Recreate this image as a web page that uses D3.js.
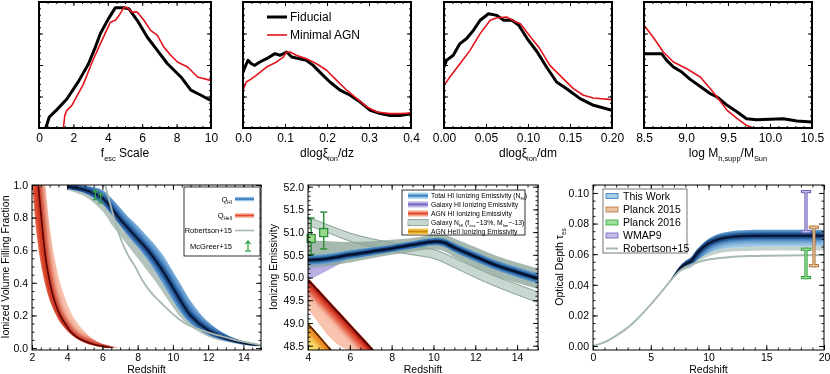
<!DOCTYPE html>
<html>
<head>
<meta charset="utf-8">
<script src="https://cdn.jsdelivr.net/npm/d3@7"></script>
<style>
  body { margin: 0; background: #fff; }
  svg { will-change: transform; }
  text, tspan { font-family: "Liberation Sans", Arial, Helvetica, sans-serif; fill: #000; }
</style>
</head>
<body>
<script>
// ---------- top row: normalised likelihood curves ----------
const fescFidX = [0.39, 0.6, 1.0, 1.62, 2.3, 2.88, 3.3, 3.57, 4.05, 4.44, 4.93, 5.22, 5.71, 6.3, 6.88, 7.47, 8.25, 8.83, 9.42, 9.96]
const fescFidY = [0, 0.087, 0.14, 0.23, 0.37, 0.51, 0.65, 0.75, 0.87, 0.955, 0.955, 0.947, 0.855, 0.72, 0.616, 0.51, 0.405, 0.30, 0.26, 0.22]
const fescAgnX = [1.42, 1.5, 1.62, 1.91, 2.59, 3.08, 3.57, 4.15, 4.44, 4.64, 4.93, 5.13, 5.42, 5.71, 6.1, 6.49, 6.88, 7.27, 7.66, 8.05, 8.64, 9.22, 9.96]
const fescAgnY = [0, 0.1, 0.14, 0.18, 0.35, 0.52, 0.67, 0.84, 0.855, 0.89, 0.955, 0.955, 0.92, 0.92, 0.855, 0.775, 0.735, 0.64, 0.577, 0.524, 0.484, 0.405, 0.378]

const dzFidX = [0, 0.0064, 0.012, 0.02, 0.028, 0.04, 0.056, 0.076, 0.088, 0.104, 0.116, 0.135, 0.151, 0.167, 0.187, 0.207, 0.231, 0.255, 0.279, 0.303, 0.327, 0.35, 0.374, 0.4]
const dzFidY = [0.444, 0.497, 0.537, 0.51, 0.497, 0.524, 0.55, 0.59, 0.577, 0.603, 0.563, 0.55, 0.537, 0.497, 0.43, 0.365, 0.30, 0.26, 0.206, 0.14, 0.114, 0.10, 0.10, 0.114]
const dzAgnX = [0, 0.008, 0.02, 0.036, 0.056, 0.08, 0.096, 0.104, 0.112, 0.127, 0.151, 0.175, 0.199, 0.223, 0.247, 0.271, 0.295, 0.319, 0.35, 0.374, 0.4]
const dzAgnY = [0.30, 0.365, 0.39, 0.43, 0.484, 0.524, 0.563, 0.603, 0.603, 0.577, 0.55, 0.51, 0.458, 0.378, 0.30, 0.233, 0.167, 0.127, 0.114, 0.114, 0.119]

const dmFidX = [0, 0.003, 0.011, 0.019, 0.027, 0.035, 0.043, 0.053, 0.063, 0.071, 0.081, 0.089, 0.099, 0.111, 0.122, 0.134, 0.146, 0.162, 0.178, 0.2]
const dmFidY = [0.484, 0.537, 0.577, 0.67, 0.71, 0.775, 0.855, 0.907, 0.894, 0.855, 0.855, 0.815, 0.71, 0.603, 0.484, 0.365, 0.312, 0.233, 0.18, 0.14]
const dmAgnX = [0, 0.007, 0.019, 0.031, 0.043, 0.055, 0.063, 0.075, 0.083, 0.091, 0.103, 0.114, 0.126, 0.138, 0.154, 0.166, 0.178, 0.2]
const dmAgnY = [0.339, 0.405, 0.51, 0.616, 0.749, 0.855, 0.875, 0.88, 0.85, 0.828, 0.722, 0.63, 0.497, 0.418, 0.312, 0.26, 0.238, 0.225]

const mhFidX = [8.5, 8.71, 8.77, 8.85, 8.95, 9.05, 9.17, 9.29, 9.37, 9.49, 9.61, 9.72, 9.84, 10.0, 10.16, 10.32, 10.5]
const mhFidY = [0.59, 0.59, 0.537, 0.484, 0.444, 0.386, 0.33, 0.272, 0.246, 0.18, 0.127, 0.074, 0.066, 0.069, 0.074, 0.056, 0.048]
const mhAgnX = [8.5, 8.61, 8.73, 8.85, 9.01, 9.17, 9.29, 9.37, 9.49, 9.61, 9.72, 9.8, 10.5]
const mhAgnY = [0.815, 0.72, 0.603, 0.524, 0.47, 0.405, 0.312, 0.246, 0.14, 0.074, 0.021, 0, 0]

// ---------- bottom left: ionized fractions ----------
const qhiZ    = [4, 5, 6, 6.5, 7, 7.5, 8, 8.5, 9, 9.5, 10, 10.5, 11, 12, 13, 14, 15]
const qhiHi   = [1.0, 0.995, 0.97, 0.92, 0.86, 0.80, 0.75, 0.69, 0.63, 0.56, 0.47, 0.38, 0.29, 0.16, 0.085, 0.042, 0.018]
const qhiCore = [0.99, 0.97, 0.92, 0.86, 0.79, 0.73, 0.67, 0.61, 0.54, 0.46, 0.37, 0.28, 0.20, 0.11, 0.06, 0.03, 0.013]
const qhiLo   = [0.975, 0.95, 0.88, 0.82, 0.75, 0.68, 0.62, 0.55, 0.47, 0.38, 0.29, 0.21, 0.15, 0.08, 0.045, 0.022, 0.01]
const qhiGrey = [0.97, 0.93, 0.84, 0.76, 0.69, 0.62, 0.55, 0.48, 0.41, 0.33, 0.25, 0.18, 0.13, 0.07, 0.038, 0.018, 0.008]

const heiiQ     = [1.0, 0.9, 0.8, 0.7, 0.6, 0.5, 0.4, 0.3, 0.2, 0.15, 0.1, 0.06, 0.03, 0.01, 0.0]
const heiiLeft  = [2.0, 2.09, 2.16, 2.26, 2.38, 2.53, 2.72, 2.98, 3.38, 3.65, 4.05, 4.5, 5.05, 5.7, 6.2]
const heiiCore  = [2.36, 2.44, 2.53, 2.62, 2.72, 2.85, 3.02, 3.25, 3.6, 3.88, 4.2, 4.65, 5.3, 6.06, 6.6]
const heiiRight = [2.76, 2.85, 2.94, 3.06, 3.2, 3.38, 3.6, 3.9, 4.3, 4.6, 5.0, 5.4, 5.9, 6.6, 7.0]

const robQZ = [6.15, 6.4, 6.7, 7.1, 7.5, 7.85, 8.3, 8.8, 9.3, 9.75, 10.2, 10.7, 11.5, 12.2, 13.0, 13.5, 14.2, 15]
const robQ  = [1.0, 0.9, 0.785, 0.652, 0.56, 0.5, 0.41, 0.335, 0.28, 0.233, 0.19, 0.15, 0.115, 0.09, 0.065, 0.05, 0.035, 0.018]

const mcgZ = [5.6, 5.9]
const mcgQ = [0.91, 0.89]

// ---------- bottom middle: emissivities ----------
const totZ     = [4, 5, 6, 7, 8, 9, 10, 10.5, 11, 12, 13, 14, 15]
const totCore  = [50.38, 50.42, 50.5, 50.57, 50.64, 50.72, 50.79, 50.77, 50.66, 50.46, 50.27, 50.12, 49.98]
const totHi    = [50.5, 50.53, 50.6, 50.66, 50.72, 50.8, 50.87, 50.86, 50.76, 50.57, 50.38, 50.23, 50.1]
const totLo    = [50.26, 50.31, 50.4, 50.48, 50.56, 50.64, 50.71, 50.68, 50.56, 50.35, 50.16, 50.0, 49.86]
const totOutHi = [50.82, 50.8, 50.78, 50.8, 50.83, 50.87, 50.95, 50.95, 50.86, 50.67, 50.48, 50.33, 50.2]
const totOutLo = [50.22, 50.26, 50.33, 50.42, 50.5, 50.57, 50.62, 50.58, 50.45, 50.22, 50.02, 49.88, 49.75]

const galZ  = [4, 4.5, 5, 5.5, 6]
const galHi = [50.35, 50.38, 50.42, 50.46, 50.5]
const galLo = [49.95, 50.05, 50.17, 50.3, 50.45]

const nhiZ  = [4, 5, 6, 7, 8, 9, 10, 11, 12, 13, 14, 15]
const nhiHi = [51.33, 51.15, 50.98, 50.86, 50.77, 50.69, 50.62, 50.43, 50.22, 50.02, 49.85, 49.68]
const nhiLo = [51.15, 50.98, 50.8, 50.68, 50.58, 50.5, 50.42, 50.22, 50.0, 49.8, 49.62, 49.45]

const agnZ    = [4, 4.5, 5, 5.5, 6, 6.5, 7, 7.3]
const agnHi   = [49.99, 49.74, 49.49, 49.24, 48.99, 48.74, 48.49, 48.34]
const agnCore = [49.95, 49.7, 49.45, 49.2, 48.95, 48.7, 48.45, 48.3]
const agnLo   = [49.3, 49.0, 48.7, 48.5, 48.4, 48.35, 48.3, 48.3]

const heZ    = [4, 4.5, 5, 5.2]
const heHi   = [49.01, 48.75, 48.48, 48.38]
const heCore = [48.98, 48.72, 48.45, 48.35]
const heLo   = [48.3, 48.3, 48.3, 48.3]

const obsZ  = [4.15, 4.75]
const obsE  = [50.86, 50.99]
const obsLo = [50.51, 50.63]
const obsHi = [51.31, 51.44]

// ---------- bottom right: optical depth ----------
const robTZ = [0, 1, 2, 3, 4, 5, 6, 6.5, 7, 7.5, 8, 9, 10, 11, 12, 13, 14, 15, 17, 20]
const robTau = [0, 0.0025, 0.0068, 0.012, 0.019, 0.0272, 0.036, 0.0408, 0.0452, 0.049, 0.0515, 0.0545, 0.0565, 0.0575, 0.0582, 0.0586, 0.0588, 0.059, 0.0592, 0.0594]

const twZ    = [6.5, 7, 7.5, 8, 8.5, 9, 10, 11, 12, 13, 14, 15, 17, 20]
const twHi   = [0.0410, 0.0466, 0.0520, 0.0555, 0.0580, 0.0630, 0.0700, 0.0735, 0.0750, 0.0756, 0.0759, 0.0760, 0.0760, 0.0760]
const twCore = [0.0408, 0.0458, 0.0505, 0.0535, 0.0555, 0.0605, 0.0670, 0.0700, 0.0713, 0.0718, 0.0720, 0.0721, 0.0721, 0.0721]
const twLo   = [0.0407, 0.0452, 0.0490, 0.0510, 0.0525, 0.0560, 0.0605, 0.0630, 0.0640, 0.0645, 0.0648, 0.0650, 0.0650, 0.0650]
const twGrey = [0.0406, 0.0448, 0.0483, 0.0500, 0.0512, 0.0545, 0.0585, 0.0608, 0.0617, 0.0621, 0.0623, 0.0624, 0.0624, 0.0624]

const cmbNames = ["WMAP9", "Planck 2015", "Planck 2016"]
const cmbZ  = [18.44, 19.13, 18.44]
const cmbLo = [0.0747, 0.0525, 0.0447]
const cmbHi = [0.1009, 0.0776, 0.0632]

// ---------- drawing ----------
const svg = d3.select("body").append("svg").attr("width", 830).attr("height", 374)
const defs = svg.append("defs")

function blur(id, sd) {
  defs.append("filter").attr("id", id).attr("filterUnits", "userSpaceOnUse")
    .attr("x", 0).attr("y", 0).attr("width", 830).attr("height", 374)
    .append("feGaussianBlur").attr("stdDeviation", sd)
}
blur("b3", 2.6)
blur("b15", 1.3)
blur("b07", 0.6)

function frame(id, x0, x1, y0, y1, xd, yd) {
  const x = d3.scaleLinear().domain(xd).range([x0, x1])
  const y = d3.scaleLinear().domain(yd).range([y1, y0])
  defs.append("clipPath").attr("id", "clip-" + id)
    .append("rect").attr("x", x0).attr("y", y0).attr("width", x1 - x0).attr("height", y1 - y0)
  const g = svg.append("g")
  const plot = g.append("g").attr("clip-path", `url(#clip-${id})`)
  return {id, x, y, g, plot, x0, x1, y0, y1}
}

let clipN = 0
function clipTo(d) {
  const id = "band" + (clipN++)
  defs.append("clipPath").attr("id", id).append("path").attr("d", d)
  return `url(#${id})`
}

// text with subscripts: parts are strings or {sub: "..."}
function rich(t, parts, fs) {
  let down = false
  parts.forEach(p => {
    const s = t.append("tspan").attr("fill", "#000")
    if (typeof p === "string") {
      s.text(p)
      if (down) { s.attr("dy", -0.3 * fs); down = false }
    } else {
      s.text(p.sub).attr("font-size", fs * 0.62).attr("dy", 0.3 * fs)
      down = true
    }
  })
  return t
}

function axes(p, o) {
  const {x, y, g, x0, x1, y0, y1} = p
  const tidy = sel => {
    sel.select(".domain").remove()
    sel.selectAll(".tick line").attr("stroke", "#000").attr("stroke-width", o.tw)
    sel.selectAll("text").attr("font-size", o.fs).attr("fill", "#000").attr("font-family", null)
  }
  const steps = (d, s) => d3.range(Math.ceil(d[0] / s - 1e-6) * s, d[1] + s * 1e-3, s)
  const xm = steps(x.domain(), o.xm), ym = steps(y.domain(), o.ym)
  g.append("g").attr("transform", `translate(0,${y1})`).call(d3.axisBottom(x).tickValues(xm).tickSize(-o.ml).tickFormat("")).call(tidy)
  g.append("g").attr("transform", `translate(0,${y0})`).call(d3.axisTop(x).tickValues(xm).tickSize(-o.ml).tickFormat("")).call(tidy)
  g.append("g").attr("transform", `translate(${x0},0)`).call(d3.axisLeft(y).tickValues(ym).tickSize(-o.ml).tickFormat("")).call(tidy)
  g.append("g").attr("transform", `translate(${x1},0)`).call(d3.axisRight(y).tickValues(ym).tickSize(-o.ml).tickFormat("")).call(tidy)
  g.append("g").attr("transform", `translate(0,${y1})`).call(d3.axisBottom(x).tickValues(o.xt).tickSize(-o.tl).tickPadding(o.pad).tickFormat(o.xf)).call(tidy)
  g.append("g").attr("transform", `translate(0,${y0})`).call(d3.axisTop(x).tickValues(o.xt).tickSize(-o.tl).tickFormat("")).call(tidy)
  g.append("g").attr("transform", `translate(${x0},0)`).call(d3.axisLeft(y).tickValues(o.yt).tickSize(-o.tl).tickPadding(o.pad).tickFormat(o.yf || "")).call(tidy)
  g.append("g").attr("transform", `translate(${x1},0)`).call(d3.axisRight(y).tickValues(o.yt).tickSize(-o.tl).tickFormat("")).call(tidy)
  g.append("rect").attr("x", x0).attr("y", y0).attr("width", x1 - x0).attr("height", y1 - y0)
    .attr("fill", "none").attr("stroke", "#000").attr("stroke-width", o.bw)
}

// ---- top row
const tops = [
  {id: "t1", x0: 39, x1: 211, xd: [0, 10], xt: [0, 2, 4, 6, 8, 10], xm: 0.5, xf: d3.format("d"),
   fid: [fescFidX, fescFidY], agn: [fescAgnX, fescAgnY], title: ["f", {sub: "esc"}, " Scale"]},
  {id: "t2", x0: 243, x1: 411, xd: [0, 0.4], xt: [0, 0.1, 0.2, 0.3, 0.4], xm: 0.02, xf: d3.format(".1f"),
   fid: [dzFidX, dzFidY], agn: [dzAgnX, dzAgnY], title: ["dlog\u03be", {sub: "ion"}, "/dz"]},
  {id: "t3", x0: 444, x1: 612, xd: [0, 0.2], xt: [0, 0.05, 0.1, 0.15, 0.2], xm: 0.01, xf: d3.format(".2f"),
   fid: [dmFidX, dmFidY], agn: [dmAgnX, dmAgnY], title: ["dlog\u03be", {sub: "ion"}, "/dm"]},
  {id: "t4", x0: 644, x1: 812, xd: [8.5, 10.5], xt: [8.5, 9, 9.5, 10, 10.5], xm: 0.1, xf: d3.format(".1f"),
   fid: [mhFidX, mhFidY], agn: [mhAgnX, mhAgnY], title: ["log M", {sub: "h,supp"}, "/M", {sub: "Sun"}]}
]

tops.forEach(t => {
  const p = frame(t.id, t.x0, t.x1, 2, 128, t.xd, [0, 1])
  const line = d3.line().x(d => p.x(d[0])).y(d => p.y(d[1]))
  p.plot.append("path").attr("d", line(d3.zip(...t.fid))).attr("fill", "none")
    .attr("stroke", "#000").attr("stroke-width", 3).attr("stroke-linejoin", "round")
  p.plot.append("path").attr("d", line(d3.zip(...t.agn))).attr("fill", "none")
    .attr("stroke", "#e3141b").attr("stroke-width", 1.6).attr("stroke-linejoin", "round")
  axes(p, {xt: t.xt, xm: t.xm, xf: t.xf, yt: [0.25, 0.5, 0.75], ym: 0.05, tl: 4, ml: 2, pad: 5, fs: 12, tw: 1, bw: 2})
  rich(p.g.append("text").attr("x", (t.x0 + t.x1) / 2).attr("y", 157).attr("text-anchor", "middle").attr("font-size", 12), t.title, 12)
})

// legend of top row
const tl = svg.append("g")
;[["Fiducial", "#000", 3, 17], ["Minimal AGN", "#e3141b", 1.6, 35]].forEach(([lab, col, w, yy]) => {
  tl.append("line").attr("x1", 267).attr("x2", 287).attr("y1", yy).attr("y2", yy).attr("stroke", col).attr("stroke-width", w)
  tl.append("text").attr("x", 290).attr("y", yy + 4.3).attr("font-size", 12).text(lab)
})

// ---- bottom left: Q
{
  const p = frame("A", 32, 261, 185, 350, [2, 15], [-0.012, 1.0])
  const {x, y, plot} = p
  const rows = qhiZ.map((z, i) => ({z, hi: qhiHi[i], core: qhiCore[i], lo: qhiLo[i], grey: qhiGrey[i]}))
  const band = (a, b) => d3.area().curve(d3.curveCatmullRom).x(d => x(d.z)).y0(d => y(d[b])).y1(d => y(d[a]))
  const coreLine = d3.line().curve(d3.curveCatmullRom).x(d => x(d.z)).y(d => y(d.core))

  // Q_HeII band (spread along redshift)
  const he = heiiQ.map((q, i) => ({q, l: heiiLeft[i], c: heiiCore[i], r: heiiRight[i]}))
  const hBand = (a, b) => d3.area().curve(d3.curveCatmullRom).y(d => y(d.q)).x0(d => x(d[a])).x1(d => x(d[b]))
  plot.append("path").attr("d", hBand("l", "r")(he)).attr("fill", "#f8c3ae")
  const hg = plot.append("g").attr("clip-path", clipTo(hBand("l", "r")(he)))
  const hLine = d3.line().curve(d3.curveCatmullRom).x(d => x(d.c)).y(d => y(d.q))
  hg.append("path").attr("d", hBand("l", "c")(he)).attr("fill", "#ec5f40").attr("filter", "url(#b15)")
  hg.append("path").attr("d", hLine(he)).attr("fill", "none").attr("stroke", "#c42a18").attr("stroke-width", 7).attr("filter", "url(#b3)")
  hg.append("path").attr("d", hLine(he)).attr("fill", "none").attr("stroke", "#5a0000").attr("stroke-width", 1.6).attr("filter", "url(#b07)")

  // Q_HI band
  plot.append("path").attr("d", band("lo", "grey")(rows)).attr("fill", "#b4c4bd")
  plot.append("path").attr("d", band("hi", "lo")(rows)).attr("fill", "#a2cae8")
  const bg = plot.append("g").attr("clip-path", clipTo(band("hi", "lo")(rows)))
  bg.append("path").attr("d", coreLine(rows)).attr("fill", "none").attr("stroke", "#3f7fbf").attr("stroke-width", 14).attr("filter", "url(#b3)")
  bg.append("path").attr("d", coreLine(rows)).attr("fill", "none").attr("stroke", "#123b72").attr("stroke-width", 5).attr("filter", "url(#b15)")
  bg.append("path").attr("d", coreLine(rows)).attr("fill", "none").attr("stroke", "#031330").attr("stroke-width", 1.6)

  // Robertson+15
  plot.append("path").attr("d", d3.line().curve(d3.curveCatmullRom).x(d => x(d[0])).y(d => y(d[1]))(d3.zip(robQZ, robQ)))
    .attr("fill", "none").attr("stroke", "#a7b8b1").attr("stroke-width", 1.8)

  // McGreer+15 lower limits
  const limit = (g, cx, cy) => {
    g.append("line").attr("x1", cx - 3).attr("x2", cx + 3).attr("y1", cy).attr("y2", cy)
    g.append("line").attr("x1", cx).attr("x2", cx).attr("y1", cy).attr("y2", cy - 10)
    g.append("path").attr("d", `M${cx - 2.5},${cy - 7}L${cx},${cy - 10}L${cx + 2.5},${cy - 7}`).attr("fill", "none")
  }
  const mg = p.g.append("g").attr("stroke", "#35a045").attr("stroke-width", 1.3)
  mcgZ.forEach((z, i) => limit(mg, x(z), y(mcgQ[i])))

  axes(p, {xt: [2, 4, 6, 8, 10, 12, 14], xm: 0.5, xf: d3.format("d"), yt: [0, 0.2, 0.4, 0.6, 0.8, 1.0], ym: 0.05,
           yf: d3.format(".1f"), tl: 5, ml: 2.5, pad: 4, fs: 10.5, tw: 0.9, bw: 1})
  p.g.append("text").attr("x", (p.x0 + p.x1) / 2).attr("y", 373).attr("text-anchor", "middle").attr("font-size", 10.5).text("Redshift")
  p.g.append("text").attr("transform", "translate(9,267) rotate(-90)").attr("text-anchor", "middle").attr("font-size", 10.5)
    .text("Ionized Volume Filling Fraction")

  // legend
  const lg = p.g.append("g")
  lg.append("rect").attr("x", 184).attr("y", 187).attr("width", 76).attr("height", 69).attr("fill", "#fff").attr("stroke", "#000").attr("stroke-width", 0.8)
  const sw = (yy, light, dark) => {
    lg.append("line").attr("x1", 235).attr("x2", 254).attr("y1", yy).attr("y2", yy).attr("stroke", light).attr("stroke-width", 4.5)
    lg.append("line").attr("x1", 235).attr("x2", 254).attr("y1", yy).attr("y2", yy).attr("stroke", dark).attr("stroke-width", 1.5)
  }
  rich(lg.append("text").attr("x", 232).attr("y", 201.5).attr("text-anchor", "end").attr("font-size", 7.5), ["Q", {sub: "HI"}], 7.5)
  sw(199, "#9cc6e8", "#2e6fb0")
  rich(lg.append("text").attr("x", 232).attr("y", 218).attr("text-anchor", "end").attr("font-size", 7.5), ["Q", {sub: "HeII"}], 7.5)
  sw(215.5, "#f6a58c", "#e2452c")
  lg.append("text").attr("x", 232).attr("y", 233).attr("text-anchor", "end").attr("font-size", 7.5).text("Robertson+15")
  lg.append("line").attr("x1", 235).attr("x2", 254).attr("y1", 230.5).attr("y2", 230.5).attr("stroke", "#a7b8b1").attr("stroke-width", 1.6)
  lg.append("text").attr("x", 232).attr("y", 249).attr("text-anchor", "end").attr("font-size", 7.5).text("McGreer+15")
  limit(lg.append("g").attr("stroke", "#35a045").attr("stroke-width", 1.3), 248, 251)
}

// ---- bottom middle: emissivity
{
  const p = frame("B", 308, 538, 185, 350, [4, 15], [48.405, 52.037])
  const {x, y, plot} = p
  const cr = d3.curveCatmullRom
  const area = (z, a, b) => d3.area().curve(cr).x((d, i) => x(z[i])).y0((d, i) => y(b[i])).y1((d, i) => y(a[i]))(z)
  const line = (z, v) => d3.line().curve(cr).x((d, i) => x(z[i])).y((d, i) => y(v[i]))(z)

  // galaxy N_HI model band
  plot.append("path").attr("d", area(nhiZ, nhiHi, nhiLo)).attr("fill", "#c8d7cf")
  ;[nhiHi, nhiLo].forEach(v => plot.append("path").attr("d", line(nhiZ, v)).attr("fill", "none").attr("stroke", "#7d978c").attr("stroke-width", 0.9))

  // AGN HeII
  plot.append("path").attr("d", area(heZ, heHi, heLo)).attr("fill", "#f9dc6c")
  const hg = plot.append("g").attr("clip-path", clipTo(area(heZ, heHi, heLo)))
  hg.append("path").attr("d", line(heZ, heCore)).attr("fill", "none").attr("stroke", "#e8861a").attr("stroke-width", 12).attr("filter", "url(#b3)")
  hg.append("path").attr("d", line(heZ, heCore)).attr("fill", "none").attr("stroke", "#5a2600").attr("stroke-width", 1.8).attr("filter", "url(#b07)")

  // AGN HI
  plot.append("path").attr("d", area(agnZ, agnHi, agnLo)).attr("fill", "#f8c4b0")
  const ag = plot.append("g").attr("clip-path", clipTo(area(agnZ, agnHi, agnLo)))
  ag.append("path").attr("d", line(agnZ, agnCore)).attr("fill", "none").attr("stroke", "#e0462e").attr("stroke-width", 16).attr("filter", "url(#b3)")
  ag.append("path").attr("d", line(agnZ, agnCore)).attr("fill", "none").attr("stroke", "#b01a10").attr("stroke-width", 5).attr("filter", "url(#b15)")
  ag.append("path").attr("d", line(agnZ, agnCore)).attr("fill", "none").attr("stroke", "#4a0000").attr("stroke-width", 1.6)

  // galaxy HI
  plot.append("path").attr("d", area(galZ, galHi, galLo)).attr("fill", "#b9b0e2")
  const gg = plot.append("g").attr("clip-path", clipTo(area(galZ, galHi, galLo)))
  gg.append("path").attr("d", line(galZ, galHi)).attr("fill", "none").attr("stroke", "#6e60c0").attr("stroke-width", 8).attr("filter", "url(#b3)")

  // total HI
  plot.append("path").attr("d", area(totZ, totOutHi, totOutLo)).attr("fill", "#8ea89b").attr("fill-opacity", 0.8)
  plot.append("path").attr("d", area(totZ, totHi, totLo)).attr("fill", "#8dbde2")
  const tg = plot.append("g").attr("clip-path", clipTo(area(totZ, totHi, totLo)))
  tg.append("path").attr("d", line(totZ, totCore)).attr("fill", "none").attr("stroke", "#2c6aa8").attr("stroke-width", 8).attr("filter", "url(#b15)")
  tg.append("path").attr("d", line(totZ, totCore)).attr("fill", "none").attr("stroke", "#0a2754").attr("stroke-width", 3.5).attr("filter", "url(#b07)")
  tg.append("path").attr("d", line(totZ, totCore)).attr("fill", "none").attr("stroke", "#020c22").attr("stroke-width", 1.2)

  // observational points
  const og = p.g.append("g")
  obsZ.forEach((z, i) => {
    const cx = x(z)
    og.append("line").attr("x1", cx).attr("x2", cx).attr("y1", y(obsLo[i])).attr("y2", y(obsHi[i])).attr("stroke", "#2f8f3e").attr("stroke-width", 1.5)
    ;[obsLo[i], obsHi[i]].forEach(v => og.append("line").attr("x1", cx - 3.5).attr("x2", cx + 3.5).attr("y1", y(v)).attr("y2", y(v)).attr("stroke", "#2f8f3e").attr("stroke-width", 1.5))
    og.append("rect").attr("x", cx - 4).attr("y", y(obsE[i]) - 4).attr("width", 8).attr("height", 8)
      .attr("fill", "#9bd98a").attr("stroke", "#2f8f3e").attr("stroke-width", 1.3)
  })

  axes(p, {xt: [4, 6, 8, 10, 12, 14], xm: 0.5, xf: d3.format("d"), yt: [48.5, 49, 49.5, 50, 50.5, 51, 51.5, 52], ym: 0.1,
           yf: d3.format(".1f"), tl: 5, ml: 2.5, pad: 4, fs: 10.5, tw: 0.9, bw: 1})
  p.g.append("text").attr("x", (p.x0 + p.x1) / 2).attr("y", 373).attr("text-anchor", "middle").attr("font-size", 10.5).text("Redshift")
  p.g.append("text").attr("transform", "translate(277,267) rotate(-90)").attr("text-anchor", "middle").attr("font-size", 10.5)
    .text("Ionizing Emissivity")

  // legend
  const lg = p.g.append("g")
  lg.append("rect").attr("x", 402).attr("y", 190).attr("width", 123).attr("height", 45).attr("fill", "#fff").attr("stroke", "#000").attr("stroke-width", 0.8)
  const ent = [
    [["Total HI Ionizing Emissivity (N", {sub: "HI"}, ")"], "#9ccae9", "#3a7dbd", null],
    [["Galaxy HI Ionizing Emissivity"], "#bdb4e6", "#7466c2", null],
    [["AGN HI Ionizing Emissivity"], "#f6a58c", "#e2452c", null],
    [["Galaxy N", {sub: "HI"}, " (f", {sub: "esc"}, "~13%, M", {sub: "lim"}, "~-13)"], "#c8d7cf", "#c8d7cf", "#6f8a80"],
    [["AGN HeII Ionizing Emissivity"], "#f2c54a", "#c98a10", null]
  ]
  const ys = [195.7, 204.4, 213.5, 222.7, 231.5]
  ent.forEach(([parts, light, dark, edge], i) => {
    const yy = ys[i]
    lg.append("rect").attr("x", 408).attr("y", yy - 3).attr("width", 20).attr("height", 6).attr("fill", light)
      .attr("stroke", edge || "none").attr("stroke-width", 0.7)
    lg.append("line").attr("x1", 408).attr("x2", 428).attr("y1", yy).attr("y2", yy).attr("stroke", dark).attr("stroke-width", 2)
    rich(lg.append("text").attr("x", 431).attr("y", yy + 2.4).attr("font-size", 6.8), parts, 6.8)
  })
}

// ---- bottom right: optical depth
{
  const p = frame("C", 593, 824, 185, 350, [0, 20], [-0.0026, 0.1052])
  const {x, y, plot} = p
  const cr = d3.curveCatmullRom
  const area = (z, a, b) => d3.area().curve(cr).x((d, i) => x(z[i])).y0((d, i) => y(b[i])).y1((d, i) => y(a[i]))(z)
  const line = (z, v) => d3.line().curve(cr).x((d, i) => x(z[i])).y((d, i) => y(v[i]))(z)

  plot.append("path").attr("d", area(twZ, twLo, twGrey)).attr("fill", "#c3d2cb")
  plot.append("path").attr("d", area(twZ, twHi, twLo)).attr("fill", "#a5cce8")
  const tg = plot.append("g").attr("clip-path", clipTo(area(twZ, twHi, twLo)))
  tg.append("path").attr("d", line(twZ, twCore)).attr("fill", "none").attr("stroke", "#3677b8").attr("stroke-width", 12).attr("filter", "url(#b3)")
  tg.append("path").attr("d", line(twZ, twCore)).attr("fill", "none").attr("stroke", "#0c2c5c").attr("stroke-width", 4.5).attr("filter", "url(#b15)")
  tg.append("path").attr("d", line(twZ, twCore)).attr("fill", "none").attr("stroke", "#020e26").attr("stroke-width", 1.4)

  plot.append("path").attr("d", line(robTZ, robTau)).attr("fill", "none").attr("stroke", "#a7b9b2").attr("stroke-width", 2)

  const cmbCol = {"WMAP9": ["#6a5fb5", "#c3bdea"], "Planck 2015": ["#b0743c", "#eac3a0"], "Planck 2016": ["#2f9e3c", "#9fe09a"]}
  const ebar = (g, cx, yt, yb, dark, light, hw) => {
    ;[[dark, 3.2], [light, 1.3]].forEach(([c, w]) => {
      g.append("line").attr("x1", cx).attr("x2", cx).attr("y1", yt).attr("y2", yb).attr("stroke", c).attr("stroke-width", w).attr("stroke-linecap", "square")
      ;[yt, yb].forEach(v => g.append("line").attr("x1", cx - hw).attr("x2", cx + hw).attr("y1", v).attr("y2", v).attr("stroke", c).attr("stroke-width", w).attr("stroke-linecap", "square"))
    })
  }
  cmbNames.forEach((n, i) => ebar(p.g, x(cmbZ[i]), y(cmbHi[i]), y(cmbLo[i]), cmbCol[n][0], cmbCol[n][1], 3.5))

  axes(p, {xt: [0, 5, 10, 15, 20], xm: 1, xf: d3.format("d"), yt: [0, 0.02, 0.04, 0.06, 0.08, 0.1], ym: 0.005,
           yf: d3.format(".2f"), tl: 5, ml: 2.5, pad: 4, fs: 10.5, tw: 0.9, bw: 1})
  p.g.append("text").attr("x", (p.x0 + p.x1) / 2).attr("y", 373).attr("text-anchor", "middle").attr("font-size", 10.5).text("Redshift")
  rich(p.g.append("text").attr("transform", "translate(563,267) rotate(-90)").attr("text-anchor", "middle").attr("font-size", 10.5),
       ["Optical Depth \u03c4", {sub: "es"}], 10.5)

  // legend
  const lg = p.g.append("g")
  lg.append("rect").attr("x", 603).attr("y", 189).attr("width", 84).attr("height", 64).attr("fill", "#fff").attr("stroke", "#555").attr("stroke-width", 0.8)
  const ent = [["This Work", "#a5cce8", "#3677b8"], ["Planck 2015", ...cmbCol["Planck 2015"].slice().reverse()],
               ["Planck 2016", ...cmbCol["Planck 2016"].slice().reverse()], ["WMAP9", ...cmbCol["WMAP9"].slice().reverse()]]
  const ys = [196, 209.5, 222.5, 235.5]
  ent.forEach(([lab, light, dark], i) => {
    const yy = ys[i]
    lg.append("rect").attr("x", 606).attr("y", yy - 2.5).attr("width", 12).attr("height", 5).attr("fill", light).attr("stroke", dark).attr("stroke-width", 0.8)
    lg.append("text").attr("x", 623).attr("y", yy + 3.8).attr("font-size", 10.5).text(lab)
  })
  lg.append("line").attr("x1", 606).attr("x2", 618).attr("y1", 248.5).attr("y2", 248.5).attr("stroke", "#a7b9b2").attr("stroke-width", 2)
  lg.append("text").attr("x", 623).attr("y", 252.3).attr("font-size", 10.5).text("Robertson+15")
}
</script>
</body>
</html>
